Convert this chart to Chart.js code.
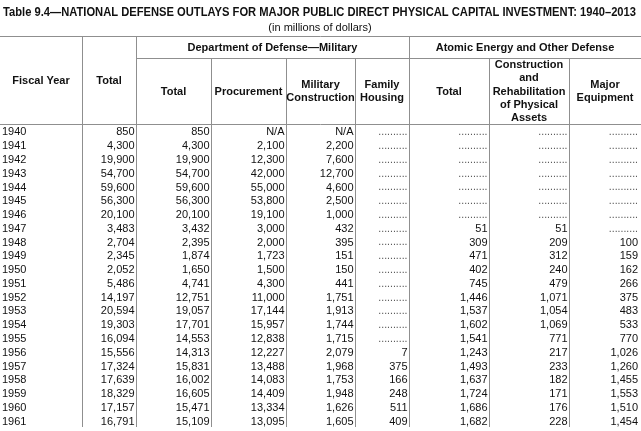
<!DOCTYPE html>
<html>
<head>
<meta charset="utf-8">
<script src="https://cdn.jsdelivr.net/npm/chart.js@4.4.0/dist/chart.umd.min.js"></script>
<style>
  html, body { margin: 0; padding: 0; background: #fff; }
  canvas { display: block; }
</style>
</head>
<body>
<canvas id="tabela" width="641" height="431"></canvas>
<script>
// dados da tabela (milhões de dólares), null = "........"
const anos = [1940, 1941, 1942, 1943, 1944, 1945, 1946, 1947, 1948, 1949, 1950,
              1951, 1952, 1953, 1954, 1955, 1956, 1957, 1958, 1959, 1960, 1961];
const total = [850, 4300, 19900, 54700, 59600, 56300, 20100, 3483, 2704, 2345, 2052,
               5486, 14197, 20594, 19303, 16094, 15556, 17324, 17639, 18329, 17157, 16791];
const dodTotal = [850, 4300, 19900, 54700, 59600, 56300, 20100, 3432, 2395, 1874, 1650,
                  4741, 12751, 19057, 17701, 14553, 14313, 15831, 16002, 16605, 15471, 15109];
const procurement = ['N/A', 2100, 12300, 42000, 55000, 53800, 19100, 3000, 2000, 1723, 1500,
                     4300, 11000, 17144, 15957, 12838, 12227, 13488, 14083, 14409, 13334, 13095];
const militaryConstruction = ['N/A', 2200, 7600, 12700, 4600, 2500, 1000, 432, 395, 151, 150,
                              441, 1751, 1913, 1744, 1715, 2079, 1968, 1753, 1948, 1626, 1605];
const familyHousing = [null, null, null, null, null, null, null, null, null, null, null,
                       null, null, null, null, null, 7, 375, 166, 248, 511, 409];
const atomicTotal = [null, null, null, null, null, null, null, 51, 309, 471, 402,
                     745, 1446, 1537, 1602, 1541, 1243, 1493, 1637, 1724, 1686, 1682];
const construction = [null, null, null, null, null, null, null, 51, 209, 312, 240,
                      479, 1071, 1054, 1069, 771, 217, 233, 182, 171, 176, 228];
const majorEquipment = [null, null, null, null, null, null, null, null, 100, 159, 162,
                        266, 375, 483, 533, 770, 1026, 1260, 1455, 1553, 1510, 1454];

const titulo = 'Table 9.4\u2014NATIONAL DEFENSE OUTLAYS FOR MAJOR PUBLIC DIRECT PHYSICAL CAPITAL INVESTMENT: 1940\u20132013';
const subtitulo = '(in millions of dollars)';

// layout
const fonte = "'Liberation Sans', Arial, Helvetica, sans-serif";
const bordas = [0, 82, 136, 211, 286, 355, 409, 489, 569, 641];
const corLinha = '#8f8f8f';
const corTexto = '#111';

const colunas = [
    { valores: anos, col: 0, align: 'left' },
    { valores: total, col: 1 },
    { valores: dodTotal, col: 2 },
    { valores: procurement, col: 3 },
    { valores: militaryConstruction, col: 4 },
    { valores: familyHousing, col: 5 },
    { valores: atomicTotal, col: 6 },
    { valores: construction, col: 7 },
    { valores: majorEquipment, col: 8 }
];

function posicaoX(c) {
    if (c.align === 'left') return bordas[c.col] + 2;
    if (c.col === 8) return bordas[9] - 3;
    return bordas[c.col + 1] - 1.5;
}

function formatar(v, c) {
    if (c.align === 'left') return String(v);
    if (v === null) return null;
    if (typeof v === 'string') return v;
    return v.toLocaleString('en-US');
}

const cabecalhos = [
    { linhas: ['Fiscal Year'], de: 0, ate: 1, y: 80.5 },
    { linhas: ['Total'], de: 1, ate: 2, y: 80.5 },
    { linhas: ['Department of Defense\u2014Military'], de: 2, ate: 6, y: 47.5 },
    { linhas: ['Atomic Energy and Other Defense'], de: 6, ate: 9, y: 47.5 },
    { linhas: ['Total'], de: 2, ate: 3, y: 91.7 },
    { linhas: ['Procurement'], de: 3, ate: 4, y: 91.7 },
    { linhas: ['Military', 'Construction'], de: 4, ate: 5, y: 91.7 },
    { linhas: ['Family', 'Housing'], de: 5, ate: 6, y: 91.7 },
    { linhas: ['Total'], de: 6, ate: 7, y: 91.7 },
    { linhas: ['Construction', 'and', 'Rehabilitation', 'of Physical', 'Assets'], de: 7, ate: 8, y: 91.7 },
    { linhas: ['Major', 'Equipment'], de: 8, ate: 9, y: 91.7 }
];

const pluginTabela = {
    id: 'pluginTabela',
    beforeDraw(chart) {
        const ctx = chart.ctx;
        ctx.save();
        ctx.fillStyle = '#fff';
        ctx.fillRect(0, 0, chart.width, chart.height);
        ctx.restore();
    },
    afterDatasetsDraw(chart) {
        const ctx = chart.ctx;
        const sx = chart.scales.x;
        const area = chart.chartArea;
        const px = v => Math.round(sx.getPixelForValue(v)) + 0.5;

        ctx.save();
        ctx.fillStyle = corTexto;
        ctx.textBaseline = 'middle';

        // título
        ctx.font = 'bold 12.5px ' + fonte;
        ctx.textAlign = 'left';
        ctx.fillText(titulo, 3, 12.5, 633);
        ctx.font = '11px ' + fonte;
        ctx.textAlign = 'center';
        ctx.fillText(subtitulo, 320, 27.5);

        // linhas
        ctx.strokeStyle = corLinha;
        ctx.lineWidth = 1;
        ctx.beginPath();
        ctx.moveTo(0, 36.5); ctx.lineTo(chart.width, 36.5);
        ctx.moveTo(px(bordas[2]), 58.5); ctx.lineTo(chart.width, 58.5);
        ctx.moveTo(0, 124.5); ctx.lineTo(chart.width, 124.5);
        [1, 2, 6].forEach(i => { ctx.moveTo(px(bordas[i]), 36); ctx.lineTo(px(bordas[i]), area.bottom - 1); });
        [3, 4, 5, 7, 8].forEach(i => { ctx.moveTo(px(bordas[i]), 58); ctx.lineTo(px(bordas[i]), area.bottom - 1); });
        ctx.stroke();

        // cabeçalhos
        ctx.font = 'bold 11px ' + fonte;
        ctx.textAlign = 'center';
        cabecalhos.forEach(h => {
            const cx = (sx.getPixelForValue(bordas[h.de]) + sx.getPixelForValue(bordas[h.ate])) / 2;
            const passo = 13.3;
            const y0 = h.y - (h.linhas.length - 1) * passo / 2;
            h.linhas.forEach((l, k) => ctx.fillText(l, cx, y0 + k * passo));
        });

        // células
        chart.data.datasets.forEach((ds, i) => {
            const meta = chart.getDatasetMeta(i);
            const c = colunas[i];
            meta.data.forEach((pt, j) => {
                const txt = formatar(c.valores[j], c);
                if (txt === null) {
                    ctx.font = '10.5px ' + fonte;
                    ctx.fillStyle = '#555';
                    ctx.textAlign = 'right';
                    ctx.fillText('..........', pt.x, pt.y + 0.5);
                } else {
                    ctx.font = '11px ' + fonte;
                    ctx.fillStyle = corTexto;
                    ctx.textAlign = c.align === 'left' ? 'left' : 'right';
                    ctx.fillText(txt, pt.x, pt.y + 0.5);
                }
            });
        });
        ctx.restore();
    }
};

new Chart(document.getElementById('tabela'), {
    type: 'scatter',
    data: {
        labels: anos.map(String),
        datasets: colunas.map(c => ({
            label: 'col' + c.col,
            data: anos.map(a => ({ x: posicaoX(c), y: String(a) })),
            pointRadius: 0,
            showLine: false
        }))
    },
    options: {
        responsive: false,
        animation: false,
        events: [],
        layout: { padding: { top: 125, bottom: 3, left: 0, right: 0 } },
        plugins: { legend: { display: false }, tooltip: { enabled: false } },
        scales: {
            x: { type: 'linear', min: 0, max: 641, display: false },
            y: { type: 'category', labels: anos.map(String), offset: true, display: false }
        }
    },
    plugins: [pluginTabela]
});
</script>
</body>
</html>
